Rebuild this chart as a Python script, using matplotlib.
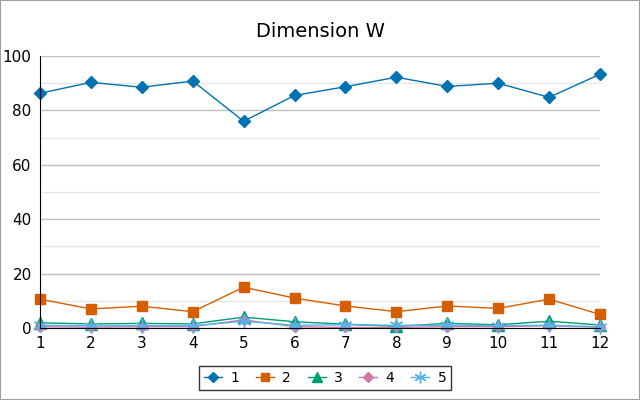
import numpy as np
import matplotlib.pyplot as plt
from matplotlib.patches import Rectangle

months = np.arange(1, 13)
s1 = [86.3, 90.3, 88.5, 90.8, 76.0, 85.5, 88.7, 92.2, 88.8, 90.0, 84.8, 93.3]
s2 = [10.6, 7.0, 8.0, 6.0, 15.0, 11.0, 8.1, 6.0, 8.1, 7.2, 10.6, 5.0]
s3 = [1.9, 1.5, 1.7, 1.5, 4.0, 2.3, 1.4, 0.6, 1.7, 1.2, 2.5, 1.1]
s4 = [0.5, 0.3, 0.5, 0.5, 3.0, 0.5, 0.2, 0.2, 0.5, 0.5, 0.8, 0.3]
s5 = [1.0, 0.8, 0.9, 0.8, 2.5, 1.0, 1.2, 1.0, 1.0, 0.9, 1.0, 0.5]
series = [s1, s2, s3, s4, s5]
names = ['1', '2', '3', '4', '5']
colors = ['#0072B2', '#D55E00', '#009E73', '#CC79A7', '#56B4E9']
markers = ['D', 's', '^', 'D', (6, 2, 0)]
sizes = [6.5, 7.5, 8, 5.5, 10]

fig = plt.figure(figsize=(6.4, 4.0), dpi=100)
ax = fig.add_axes([0.0625, 0.18, 0.875, 0.68])

for ys, name, c, m, ms in zip(series, names, colors, markers, sizes):
    ax.plot(months, ys, color=c, lw=1, marker=m, ms=ms, mfc=c, mec=c,
            mew=1, label=name, clip_on=False)

ax.set_xlim(1, 12)
ax.set_ylim(0, 100)
ax.set_xticks(months)
ax.set_yticks(np.arange(0, 101, 20))
ax.set_yticks(np.arange(10, 100, 20), minor=True)
ax.grid(axis='y', which='major', color='#c0c0c0', lw=1)
ax.grid(axis='y', which='minor', color='#e6e6e6', lw=1)
ax.set_axisbelow(True)
for sp in ['top', 'right']:
    ax.spines[sp].set_visible(False)
for sp in ['left', 'bottom']:
    ax.spines[sp].set_color('black')
ax.tick_params(axis='both', which='both', length=0, labelsize=11, pad=6)
ax.set_title('Dimension W', fontsize=14, pad=14)

leg = ax.legend(loc='center', bbox_to_anchor=(0.509, -0.184), ncol=5, frameon=True,
                fancybox=False, edgecolor='black', fontsize=10, numpoints=1,
                markerscale=0.85, handlelength=1.3, handletextpad=0.6,
                columnspacing=1.2, borderpad=0.35, borderaxespad=0)
leg.get_frame().set_linewidth(1)

fig.patches.append(Rectangle((0, 0), 1, 1, transform=fig.transFigure,
                             fill=False, edgecolor='#a0a0a0', lw=1.5))
fig.savefig('out.png', dpi=100)
